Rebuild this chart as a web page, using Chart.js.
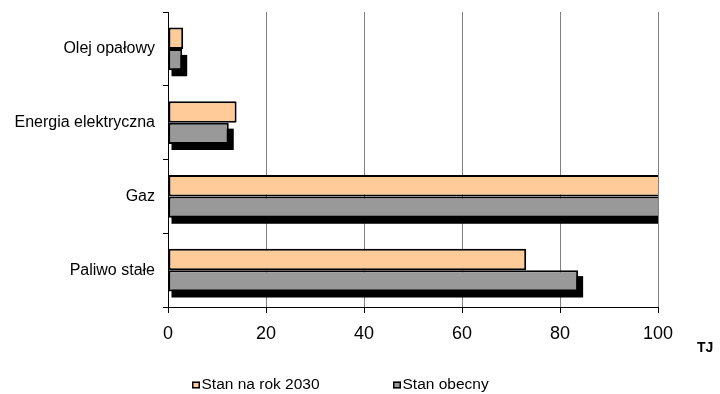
<!DOCTYPE html>
<html>
<head>
<meta charset="utf-8">
<script src="https://cdn.jsdelivr.net/npm/chart.js@4/dist/chart.umd.min.js"></script>
<style>
  html, body { margin: 0; padding: 0; background: #fff; }
  #wrap { width: 720px; height: 394px; }
</style>
</head>
<body>
<div id="wrap"><canvas id="c" width="720" height="394"></canvas></div>
<script>
// Zużycie energii wg nośnika [TJ]
const categories = ['Olej opałowy', 'Energia elektryczna', 'Gaz', 'Paliwo stałe'];
const seriesNames = ['Stan na rok 2030', 'Stan obecny'];
const stan2030 = [3.1, 14.0, 118, 73.1];
const stanObecny = [2.9, 12.4, 123, 83.7];
const xTicks = [0, 20, 40, 60, 80, 100];
const unitLabel = 'TJ';

const FONT = '"Liberation Sans", Arial, sans-serif';

// cień pod słupkami serii "Stan obecny"
const shadowPlugin = {
  id: 'barShadow',
  beforeDatasetDraw(chart, args) {
    if (args.index !== 1) return;
    const ctx = chart.ctx;
    const area = chart.chartArea;
    ctx.save();
    ctx.beginPath();
    ctx.rect(area.left, area.top, area.right - area.left, area.bottom - area.top + 8);
    ctx.clip();
    ctx.fillStyle = '#000';
    args.meta.data.forEach(bar => {
      const p = bar.getProps(['x', 'y', 'base', 'height'], true);
      const left = Math.min(p.base, p.x) + 3;
      const right = Math.max(p.base, p.x) + 5;
      const top = p.y - p.height / 2 + 6;
      ctx.fillRect(left, top, right - left, p.height);
    });
    ctx.restore();
  }
};

// jednostka osi wartości i legenda pod wykresem
const decorPlugin = {
  id: 'decor',
  afterDraw(chart) {
    const ctx = chart.ctx;
    ctx.save();
    ctx.fillStyle = '#000';
    ctx.font = 'bold 14px ' + FONT;
    ctx.textAlign = 'left';
    ctx.textBaseline = 'middle';
    ctx.fillText(unitLabel, 697, 348);

    const legendX = [192, 393];
    const legendY = 385;
    ctx.font = '15.5px ' + FONT;
    chart.data.datasets.forEach((ds, i) => {
      const x = legendX[i];
      ctx.fillStyle = ds.backgroundColor;
      ctx.fillRect(x, legendY - 3.5, 8, 7);
      ctx.strokeStyle = '#000';
      ctx.lineWidth = 1.5;
      ctx.strokeRect(x + 0.75, legendY - 2.75, 6.5, 5.5);
      ctx.fillStyle = '#000';
      ctx.fillText(ds.label, x + 9.5, legendY);
    });
    ctx.restore();
  }
};

new Chart(document.getElementById('c'), {
  type: 'bar',
  data: {
    labels: categories,
    datasets: [
      {
        label: seriesNames[0],
        data: stan2030,
        backgroundColor: '#FFCC99',
        borderColor: '#000',
        borderWidth: 2,
        borderSkipped: false
      },
      {
        label: seriesNames[1],
        data: stanObecny,
        backgroundColor: '#999999',
        borderColor: '#000',
        borderWidth: 2,
        borderSkipped: false
      }
    ]
  },
  options: {
    indexAxis: 'y',
    responsive: false,
    animation: false,
    devicePixelRatio: 1,
    categoryPercentage: 0.58,
    barPercentage: 1,
    layout: { padding: { top: 12, right: 62, left: 0, bottom: 0 } },
    scales: {
      x: {
        min: 0,
        max: 100,
        afterBuildTicks(scale) {
          scale.ticks = xTicks.map(v => ({ value: v }));
        },
        afterFit(scale) {
          scale.height = 87;
          scale.paddingLeft = 0;
          scale.paddingRight = 0;
        },
        border: { display: true, color: '#000', width: 1 },
        grid: {
          color: '#808080',
          lineWidth: 1,
          drawTicks: true,
          tickLength: 6,
          tickColor: '#000'
        },
        ticks: {
          color: '#000',
          font: { family: FONT, size: 18 },
          padding: 10,
          maxRotation: 0
        }
      },
      y: {
        afterFit(scale) {
          scale.width = 168;
          scale.paddingTop = 0;
          scale.paddingBottom = 0;
        },
        border: { display: true, color: '#000', width: 1 },
        grid: {
          offset: true,
          drawOnChartArea: false,
          drawTicks: true,
          tickLength: 5,
          tickColor: '#000'
        },
        ticks: {
          color: '#000',
          font: { family: FONT, size: 16 },
          padding: 8
        }
      }
    },
    plugins: {
      legend: { display: false },
      tooltip: { enabled: false }
    }
  },
  plugins: [shadowPlugin, decorPlugin]
});
</script>
</body>
</html>
